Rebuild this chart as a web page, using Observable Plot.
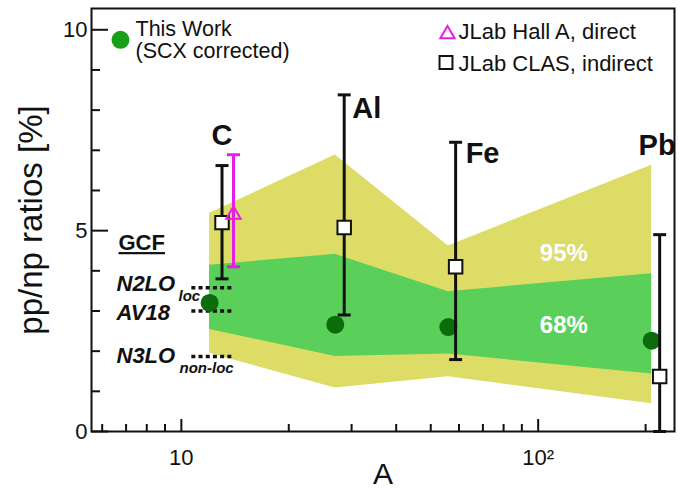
<!DOCTYPE html>
<html>
<head>
<meta charset="utf-8">
<script src="https://cdn.jsdelivr.net/npm/d3@7"></script>
<script src="https://cdn.jsdelivr.net/npm/@observablehq/plot@0.6"></script>
<style>
  html, body { margin: 0; padding: 0; background: white; }
  #chart svg { display: block; }
</style>
</head>
<body>
<div id="chart"></div>
<script>
// ---- data ----
const elements = ["C", "Al", "Fe", "Pb"];
const thisWorkA = [12, 27, 56, 208];
const thisWorkRatio = [3.20, 2.66, 2.60, 2.26];

const clasA = [13.0, 28.6, 58.7, 219];
const clasRatio = [5.20, 5.08, 4.10, 1.37];
const clasLo = [3.80, 2.90, 1.79, 0.0];
const clasHi = [6.62, 8.38, 7.20, 4.90];

const hallAA = [14.0];
const hallARatio = [5.40];
const hallALo = [4.10];
const hallAHi = [6.89];

const bandA = [12, 27, 56, 208];
const band95Lo = [1.95, 1.08, 1.36, 0.69];
const band95Hi = [5.43, 6.88, 4.62, 6.63];
const band68Lo = [2.54, 1.87, 1.93, 1.43];
const band68Hi = [4.14, 4.41, 3.48, 3.93];

const bandLabels = ["95%", "68%"];
const bandLabelA = [118, 118];
const bandLabelRatio = [4.43, 2.65];

const gcfModels = ["N2LO", "AV18", "N3LO"];
const gcfSubs = ["loc", "", "non-loc"];
const gcfRatio = [3.58, 3.00, 1.87];
const gcfARange = [10.7, 14.0];

const yMajorTicks = [0, 5, 10];
const yMinorTicks = [1, 2, 3, 4, 6, 7, 8, 9];
const xMajorTicks = [10, 100];
const xMajorLabels = ["10", "10\u00B2"];
const xMinorTicks = [6, 7, 8, 9, 20, 30, 40, 50, 60, 70, 80, 90, 200];

// ---- tables built from the arrays ----
const thisWork = thisWorkA.map((A, i) => ({A, ratio: thisWorkRatio[i], el: elements[i]}));
const clas = clasA.map((A, i) => ({A, ratio: clasRatio[i], lo: clasLo[i], hi: clasHi[i], el: elements[i]}));
const hallA = hallAA.map((A, i) => ({A, ratio: hallARatio[i], lo: hallALo[i], hi: hallAHi[i]}));
const bands = bandA.map((A, i) => ({A, lo95: band95Lo[i], hi95: band95Hi[i], lo68: band68Lo[i], hi68: band68Hi[i]}));
const bandText = bandLabels.map((t, i) => ({t, A: bandLabelA[i], ratio: bandLabelRatio[i]}));
const gcf = gcfModels.map((m, i) => ({m, sub: gcfSubs[i], ratio: gcfRatio[i]}));

const font = "Liberation Sans, Arial, Helvetica, sans-serif";
const yellow = "#dcdc66";
const green = "#5ad05a";
const darkGreen = "#0b6c0b";
const magenta = "#e41ee4";

const capSymbol = {
  draw(ctx, size) {
    const r = Math.sqrt(size / Math.PI);
    ctx.moveTo(-r, 0);
    ctx.lineTo(r, 0);
  }
};

const byEl = el => clas.filter(d => d.el === el);
const txt = {lineAnchor: "middle"};

const plot = Plot.plot({
  width: 679,
  height: 491,
  marginLeft: 91,
  marginRight: 5,
  marginTop: 8,
  marginBottom: 60,
  style: {fontFamily: font, background: "white", color: "#111", overflow: "visible"},
  x: {type: "log", domain: [5.6, 241]},
  y: {domain: [0, 10.53]},
  marks: [
    // bands
    Plot.areaY(bands, {x: "A", y1: "lo95", y2: "hi95", fill: yellow}),
    Plot.areaY(bands, {x: "A", y1: "lo68", y2: "hi68", fill: green}),
    Plot.text(bandText, {...txt, x: "A", y: "ratio", text: "t", fill: "white", fontSize: 24, fontWeight: "bold"}),

    // GCF model lines and labels
    Plot.ruleY(gcf, {y: "ratio", x1: gcfARange[0], x2: gcfARange[1], stroke: "#111", strokeWidth: 3.5, strokeDasharray: "4,3.2"}),
    Plot.text(gcf.filter((d, i) => i === 0), {...txt, y: "ratio", text: "m", frameAnchor: "left", textAnchor: "start", dx: 25, dy: -4, fontSize: 22, fontWeight: "bold", fontStyle: "italic"}),
    Plot.text(gcf.filter((d, i) => i === 1), {...txt, y: "ratio", text: "m", frameAnchor: "left", textAnchor: "start", dx: 25, dy: 1.5, fontSize: 22, fontWeight: "bold", fontStyle: "italic"}),
    Plot.text(gcf.filter((d, i) => i === 2), {...txt, y: "ratio", text: "m", frameAnchor: "left", textAnchor: "start", dx: 25, dy: 0, fontSize: 22, fontWeight: "bold", fontStyle: "italic"}),
    Plot.text(gcf.filter((d, i) => i === 0), {...txt, y: "ratio", text: "sub", frameAnchor: "left", textAnchor: "start", dx: 87, dy: 8.5, fontSize: 15, fontWeight: "bold", fontStyle: "italic"}),
    Plot.text(gcf.filter((d, i) => i === 2), {...txt, y: "ratio", text: "sub", frameAnchor: "left", textAnchor: "start", dx: 88, dy: 12, fontSize: 15, fontWeight: "bold", fontStyle: "italic"}),
    Plot.text(["GCF"], {...txt, frameAnchor: "top-left", textAnchor: "start", dx: 27, dy: 234.5, fontSize: 22, fontWeight: "bold", className: "gcf-title"}),

    // this work
    Plot.dot(thisWork, {x: "A", y: "ratio", r: 9, fill: darkGreen}),

    // CLAS
    Plot.ruleX(clas, {x: "A", y1: "lo", y2: "hi", stroke: "#111", strokeWidth: 3}),
    Plot.dot(clas, {x: "A", y: "lo", r: 6.5, symbol: capSymbol, fill: "none", stroke: "#111", strokeWidth: 3}),
    Plot.dot(clas, {x: "A", y: "hi", r: 6.5, symbol: capSymbol, fill: "none", stroke: "#111", strokeWidth: 3}),
    Plot.dot(clas, {x: "A", y: "ratio", symbol: "square", r: 7.6, fill: "white", stroke: "#111", strokeWidth: 2}),

    // Hall A
    Plot.ruleX(hallA, {x: "A", y1: "lo", y2: "hi", stroke: magenta, strokeWidth: 3}),
    Plot.dot(hallA, {x: "A", y: "lo", r: 6.5, symbol: capSymbol, fill: "none", stroke: magenta, strokeWidth: 3}),
    Plot.dot(hallA, {x: "A", y: "hi", r: 6.5, symbol: capSymbol, fill: "none", stroke: magenta, strokeWidth: 3}),
    Plot.dot(hallA, {x: "A", y: "ratio", symbol: "triangle", r: 5.3, fill: "none", stroke: magenta, strokeWidth: 2}),

    // element labels
    Plot.text(byEl("C"), {...txt, x: "A", y: "hi", text: "el", dy: -30, fontSize: 29, fontWeight: "bold"}),
    Plot.text(byEl("Al"), {...txt, x: "A", y: "hi", text: "el", textAnchor: "start", dx: 8, dy: 14, fontSize: 29, fontWeight: "bold"}),
    Plot.text(byEl("Fe"), {...txt, x: "A", y: "hi", text: "el", textAnchor: "start", dx: 10, dy: 11, fontSize: 29, fontWeight: "bold"}),
    Plot.text(byEl("Pb"), {...txt, x: "A", y: "hi", text: "el", textAnchor: "end", dx: 16, dy: -89, fontSize: 29, fontWeight: "bold"}),

    // legend
    Plot.dot([0], {frameAnchor: "top-left", dx: 29, dy: 31.3, r: 9, fill: "#17a017"}),
    Plot.text(["This Work"], {...txt, frameAnchor: "top-left", textAnchor: "start", dx: 44, dy: 20.5, fontSize: 21.5}),
    Plot.text(["(SCX corrected)"], {...txt, frameAnchor: "top-left", textAnchor: "start", dx: 44, dy: 42.5, fontSize: 21.5}),
    Plot.dot([0], {frameAnchor: "top-right", dx: -227, dy: 25.7, symbol: "triangle", r: 5.3, fill: "none", stroke: magenta, strokeWidth: 2}),
    Plot.text(["JLab Hall A, direct"], {...txt, frameAnchor: "top-right", textAnchor: "start", dx: -216, dy: 23.3, fontSize: 22}),
    Plot.dot([0], {frameAnchor: "top-right", dx: -228.5, dy: 54, symbol: "square", r: 7.3, fill: "white", stroke: "#111", strokeWidth: 2}),
    Plot.text(["JLab CLAS, indirect"], {...txt, frameAnchor: "top-right", textAnchor: "start", dx: -216, dy: 55.7, fontSize: 22}),

    // frame and axes
    Plot.frame({stroke: "#111", strokeWidth: 2}),
    Plot.axisY({ticks: yMajorTicks, tickSize: -17, fill: "none", stroke: "#111", strokeWidth: 2, label: null}),
    Plot.axisY({ticks: yMinorTicks, tickSize: -9, fill: "none", stroke: "#111", strokeWidth: 2, label: null}),
    Plot.axisY({ticks: yMajorTicks, tickSize: 0, tickPadding: 4, fontSize: 22, label: null}),
    Plot.axisX({ticks: xMajorTicks, tickSize: -12, fill: "none", stroke: "#111", strokeWidth: 2, label: null}),
    Plot.axisX({ticks: xMinorTicks, tickSize: -7, fill: "none", stroke: "#111", strokeWidth: 2, label: null}),
    Plot.axisX({ticks: xMajorTicks, tickSize: 0, tickPadding: 18, fontSize: 22, label: null,
      tickFormat: d => xMajorLabels[xMajorTicks.indexOf(d)]}),

    // axis titles
    Plot.text(["pp/np ratios [%]"], {frameAnchor: "left", textAnchor: "middle", lineAnchor: "middle", rotate: -90, dx: -60, fontSize: 33}),
    Plot.text(["A"], {frameAnchor: "bottom", textAnchor: "middle", lineAnchor: "middle", dy: 43, fontSize: 30})
  ]
});

document.getElementById("chart").appendChild(plot);
d3.select(plot).selectAll(".gcf-title text").attr("text-decoration", "underline");
</script>
</body>
</html>
